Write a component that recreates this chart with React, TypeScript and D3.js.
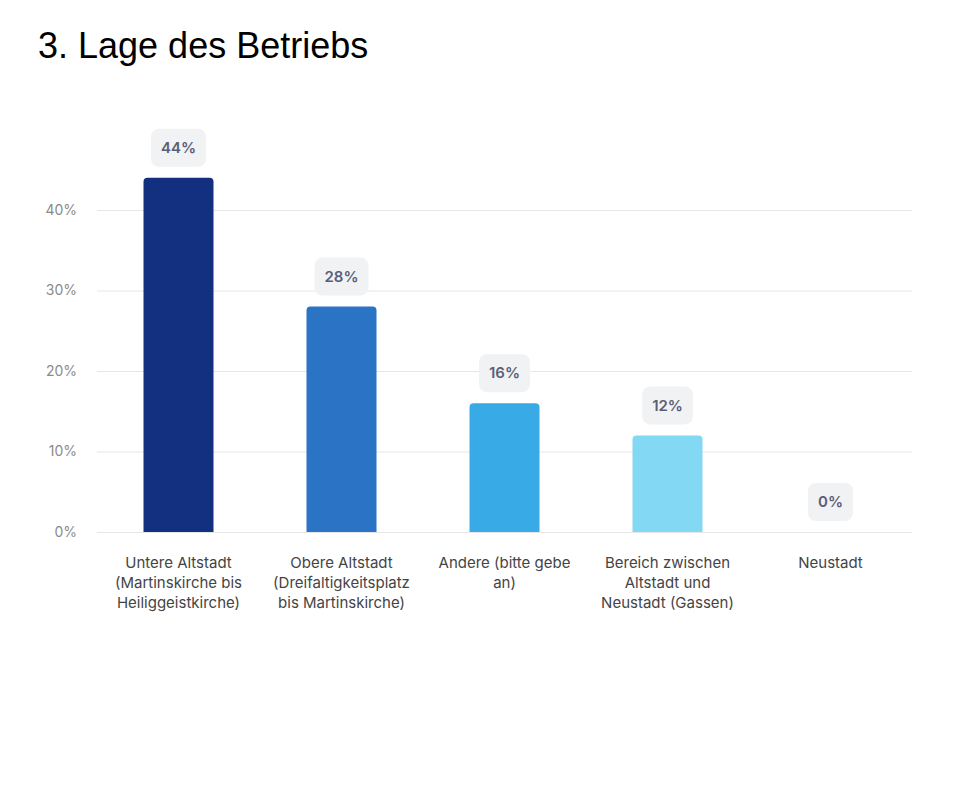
import { useEffect, useRef } from 'react';
import { select, scaleBand, scaleLinear, axisLeft } from 'd3';

const categories = [
  'Untere Altstadt (Martinskirche bis Heiliggeistkirche)',
  'Obere Altstadt (Dreifaltigkeitsplatz bis Martinskirche)',
  'Andere (bitte gebe an)',
  'Bereich zwischen Altstadt und Neustadt (Gassen)',
  'Neustadt',
];
const labelLines = [
  ['Untere Altstadt', '(Martinskirche bis', 'Heiliggeistkirche)'],
  ['Obere Altstadt', '(Dreifaltigkeitsplatz', 'bis Martinskirche)'],
  ['Andere (bitte gebe', 'an)'],
  ['Bereich zwischen', 'Altstadt und', 'Neustadt (Gassen)'],
  ['Neustadt'],
];
const values = [44, 28, 16, 12, 0];
const colors = ['#12307f', '#2b73c4', '#38abe6', '#83d8f3', '#83d8f3'];
const yTicks = [0, 10, 20, 30, 40];

// svg sits inside the 8px body margin, so page coords minus 8
const W = 950;
const H = 781;
const margin = { left: 89, right: 46, baseline: 524, top40: 202 };

function BarChart() {
  const ref = useRef<SVGSVGElement | null>(null);

  useEffect(() => {
    if (!ref.current) return;
    const svg = select(ref.current);
    svg.selectAll('*').remove();

    svg.append('text')
      .attr('x', 30)
      .attr('y', 50)
      .attr('fill', '#000')
      .style('font-family', '"Liberation Sans", Arial, sans-serif')
      .style('font-size', '36px')
      .text('3. Lage des Betriebs');

    const x = scaleBand<string>()
      .domain(categories)
      .range([margin.left, W - margin.right]);
    const y = scaleLinear().domain([0, 40]).range([margin.baseline, margin.top40]);
    const barW = 70;

    // grid + tick labels
    const axis = svg.append('g')
      .attr('transform', `translate(${margin.left},0)`)
      .call(axisLeft(y).tickValues(yTicks).tickFormat((d) => `${d}%`)
        .tickSize(-(W - margin.right - margin.left)).tickPadding(20));
    axis.select('.domain').remove();
    axis.selectAll('.tick line').attr('stroke', '#e6e6e6');
    axis.selectAll('.tick text')
      .attr('fill', '#8a8a8a')
      .style('font-family', 'Inter, sans-serif')
      .style('font-size', '14px');

    // bars with rounded tops
    const r = 4;
    svg.append('g').selectAll('path')
      .data(values.map((v, i) => ({ v, i })).filter((d) => d.v > 0))
      .join('path')
      .attr('fill', (d) => colors[d.i])
      .attr('d', (d) => {
        const cx = (x(categories[d.i]) ?? 0) + x.bandwidth() / 2;
        const x0 = cx - barW / 2;
        const x1 = cx + barW / 2;
        const yt = y(d.v);
        const yb = y(0);
        return `M${x0},${yb}V${yt + r}Q${x0},${yt} ${x0 + r},${yt}H${x1 - r}Q${x1},${yt} ${x1},${yt + r}V${yb}Z`;
      });

    // value bubbles
    const labels = svg.append('g').selectAll('g')
      .data(values.map((v, i) => ({ v, i })))
      .join('g')
      .attr('transform', (d) => {
        const cx = (x(categories[d.i]) ?? 0) + x.bandwidth() / 2;
        return `translate(${cx},${y(d.v) - 11 - 19})`;
      });
    labels.append('text')
      .attr('text-anchor', 'middle')
      .attr('dy', '0.35em')
      .attr('fill', '#5b5e78')
      .style('font-family', 'Inter, sans-serif')
      .style('font-size', '15px')
      .style('font-weight', 600)
      .text((d) => `${d.v}%`);
    labels.each(function () {
      const g = select(this);
      const t = g.select<SVGTextElement>('text').node();
      const w = t ? t.getBBox().width : 30;
      g.insert('rect', 'text')
        .attr('x', -w / 2 - 10)
        .attr('y', -19)
        .attr('width', w + 20)
        .attr('height', 38)
        .attr('rx', 8)
        .attr('fill', '#f1f2f3');
    });

    // category labels
    const cat = svg.append('g').selectAll('text')
      .data(labelLines)
      .join('text')
      .attr('text-anchor', 'middle')
      .attr('fill', '#444')
      .style('font-family', 'Inter, sans-serif')
      .style('font-size', '15px')
      .attr('transform', (_, i) => `translate(${(x(categories[i]) ?? 0) + x.bandwidth() / 2},560)`);
    cat.selectAll('tspan')
      .data((d) => d)
      .join('tspan')
      .attr('x', 0)
      .attr('dy', (_, j) => (j === 0 ? 0 : 20))
      .text((d) => d);
  }, []);

  return <svg ref={ref} width={W} height={H} style={{ display: 'block' }} />;
}

export default function App() {
  return <BarChart />;
}
